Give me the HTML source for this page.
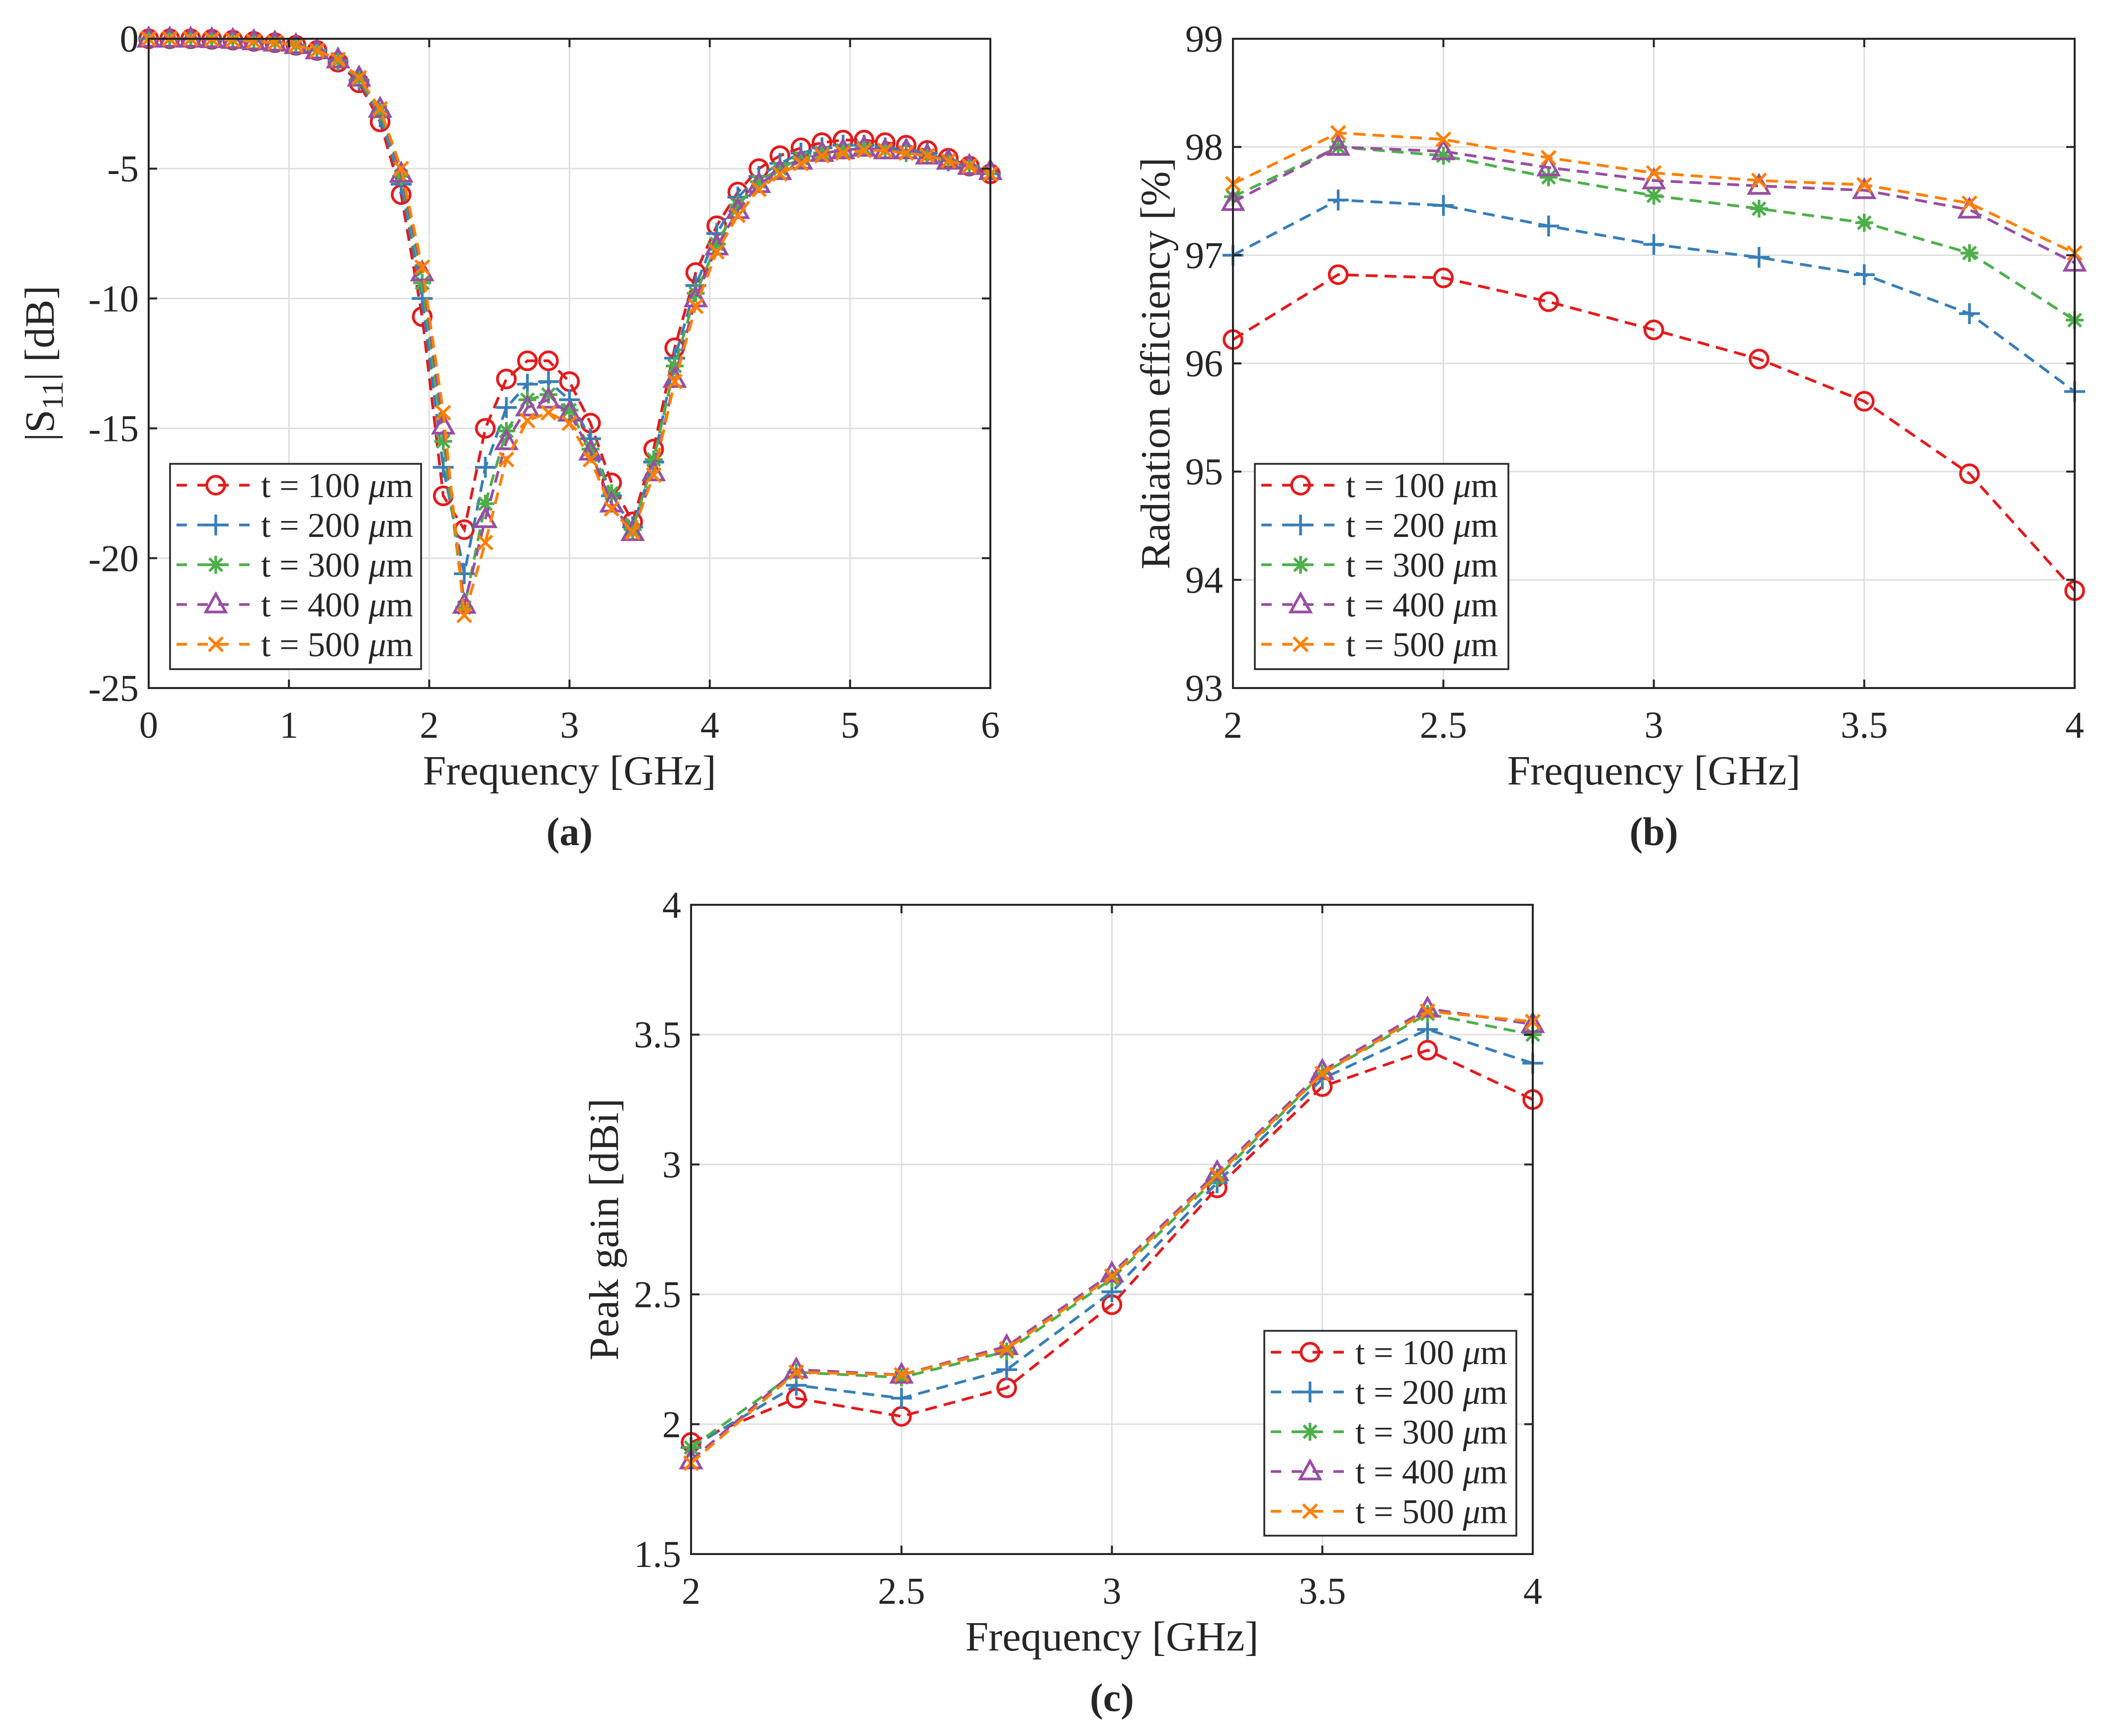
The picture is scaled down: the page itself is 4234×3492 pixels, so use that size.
<!DOCTYPE html>
<html><head><meta charset="utf-8">
<style>
html,body{margin:0;padding:0;background:#fff;}
svg{display:block;}
text{font-family:"Liberation Serif",serif;fill:#262626;}
</style></head>
<body>
<svg id="fig" width="4234" height="3492" viewBox="0 0 4234 3492" xmlns="http://www.w3.org/2000/svg"></svg>
<script>
// ---------- data ----------
const seriesLabels = ["100", "200", "300", "400", "500"];
const seriesColors = ["#e41a1c", "#377eb8", "#4daf4a", "#984ea3", "#ff7f00"];
const seriesMarkers = ["circle", "plus", "star", "triangle", "cross"];

// (a) S11
const freqA = [0,0.15,0.3,0.45,0.6,0.75,0.9,1.05,1.2,1.35,1.5,1.65,1.8,1.95,2.1,2.25,2.4,2.55,2.7,2.85,3.0,3.15,3.3,3.45,3.6,3.75,3.9,4.05,4.2,4.35,4.5,4.65,4.8,4.95,5.1,5.25,5.4,5.55,5.7,5.85,6.0];
const s11_100 = [0,0,0,-0.02,-0.05,-0.1,-0.15,-0.25,-0.45,-0.9,-1.7,-3.2,-6.0,-10.7,-17.6,-18.9,-15.0,-13.1,-12.4,-12.4,-13.2,-14.8,-17.1,-18.6,-15.8,-11.9,-9.0,-7.2,-5.9,-5.0,-4.5,-4.2,-4.0,-3.9,-3.9,-4.0,-4.1,-4.3,-4.6,-4.9,-5.2];
const s11_200 = [0,0,0,-0.02,-0.05,-0.1,-0.15,-0.25,-0.45,-0.85,-1.6,-3.0,-5.6,-10.0,-16.5,-20.6,-16.5,-14.2,-13.3,-13.2,-13.9,-15.4,-17.6,-18.8,-16.3,-12.3,-9.5,-7.5,-6.1,-5.3,-4.8,-4.4,-4.2,-4.1,-4.1,-4.2,-4.3,-4.4,-4.7,-4.9,-5.2];
const s11_300 = [0,0,0,-0.02,-0.05,-0.1,-0.15,-0.25,-0.45,-0.85,-1.55,-2.8,-5.3,-9.4,-15.5,-21.9,-17.9,-15.1,-13.9,-13.7,-14.3,-15.8,-17.5,-18.9,-16.2,-12.6,-9.8,-7.9,-6.4,-5.5,-5.0,-4.6,-4.4,-4.3,-4.2,-4.3,-4.4,-4.5,-4.7,-4.9,-5.2];
const s11_400 = [0,0,0,-0.02,-0.05,-0.1,-0.15,-0.25,-0.45,-0.8,-1.5,-2.7,-5.2,-9.0,-14.9,-21.8,-18.5,-15.5,-14.2,-13.9,-14.4,-15.9,-17.9,-19.0,-16.7,-13.1,-10.0,-8.0,-6.6,-5.6,-5.1,-4.7,-4.4,-4.3,-4.2,-4.3,-4.3,-4.5,-4.7,-4.9,-5.1];
const s11_500 = [0,0,0,-0.02,-0.05,-0.1,-0.15,-0.25,-0.45,-0.8,-1.5,-2.7,-5.0,-8.8,-14.4,-22.2,-19.4,-16.2,-14.7,-14.4,-14.8,-16.2,-18.1,-19.0,-16.8,-13.2,-10.3,-8.2,-6.8,-5.8,-5.2,-4.8,-4.5,-4.4,-4.3,-4.3,-4.4,-4.5,-4.7,-4.9,-5.2];

// (b) radiation efficiency
const freqB = [2,2.25,2.5,2.75,3,3.25,3.5,3.75,4];
const eff_100 = [96.22,96.82,96.79,96.57,96.31,96.04,95.65,94.98,93.90];
const eff_200 = [97.00,97.51,97.46,97.27,97.10,96.98,96.82,96.46,95.74];
const eff_300 = [97.54,98.00,97.92,97.72,97.55,97.43,97.30,97.02,96.40];
const eff_400 = [97.49,98.00,97.96,97.81,97.69,97.64,97.60,97.42,96.93];
const eff_500 = [97.66,98.13,98.07,97.90,97.76,97.69,97.65,97.48,97.02];

// (c) peak gain
const freqC = [2,2.25,2.5,2.75,3,3.25,3.5,3.75,4];
const gain_100 = [1.93,2.10,2.03,2.14,2.46,2.91,3.30,3.44,3.25];
const gain_200 = [1.91,2.15,2.10,2.21,2.51,2.93,3.33,3.52,3.39];
const gain_300 = [1.91,2.20,2.18,2.28,2.56,2.95,3.35,3.58,3.50];
const gain_400 = [1.86,2.21,2.19,2.30,2.58,2.97,3.36,3.60,3.54];
const gain_500 = [1.85,2.20,2.19,2.29,2.57,2.96,3.35,3.59,3.55];

// ticks
const ticksAx = [0,1,2,3,4,5,6];
const ticksAy = [0,-5,-10,-15,-20,-25];
const ticksAyLabels = ["0","-5","-10","-15","-20","-25"];
const ticksBx = [2,2.5,3,3.5,4];
const ticksBy = [93,94,95,96,97,98,99];
const ticksCx = [2,2.5,3,3.5,4];
const ticksCy = [1.5,2,2.5,3,3.5,4];

// ---------- drawing ----------
const NS = "http://www.w3.org/2000/svg";
const svg = document.getElementById("fig");
function mk(tag, attrs, parent) {
  const e = document.createElementNS(NS, tag);
  for (const k in attrs) e.setAttribute(k, attrs[k]);
  (parent || svg).appendChild(e);
  return e;
}

function marker(g, type, x, y, color) {
  const sw = 5.5;
  let m;
  if (type === "circle") {
    m = mk("circle", {cx:x, cy:y, r:18, fill:"none", stroke:color, "stroke-width":sw}, g);
  } else if (type === "plus") {
    m = mk("path", {d:`M${x-21},${y}H${x+21}M${x},${y-21}V${y+21}`, stroke:color, "stroke-width":sw, fill:"none"}, g);
  } else if (type === "star") {
    const r = 18, d = r*0.72;
    m = mk("path", {d:`M${x-r},${y}H${x+r}M${x},${y-r}V${y+r}M${x-d},${y-d}L${x+d},${y+d}M${x-d},${y+d}L${x+d},${y-d}`, stroke:color, "stroke-width":sw, fill:"none"}, g);
  } else if (type === "triangle") {
    m = mk("path", {d:`M${x},${y-21}L${x+20},${y+15}L${x-20},${y+15}Z`, stroke:color, "stroke-width":sw, fill:"none"}, g);
  } else {
    const d = 14;
    m = mk("path", {d:`M${x-d},${y-d}L${x+d},${y+d}M${x-d},${y+d}L${x+d},${y-d}`, stroke:color, "stroke-width":sw, fill:"none"}, g);
  }
  
  
}

function drawPlot(cfg) {
  const g = mk("g", {});
  
  
  const {L, T, W, H, xmin, xmax, ymin, ymax} = cfg;
  const sx = v => L + (v - xmin) / (xmax - xmin) * W;
  const sy = v => T + H - (v - ymin) / (ymax - ymin) * H;
  const grid = mk("g", {}, g);
  
  
  cfg.xt.forEach(v => mk("line", {x1:sx(v), x2:sx(v), y1:T, y2:T+H, stroke:"#dfdfdf", "stroke-width":3}, grid));
  cfg.yt.forEach(v => mk("line", {x1:L, x2:L+W, y1:sy(v), y2:sy(v), stroke:"#dfdfdf", "stroke-width":3}, grid));
  cfg.series.forEach((ys, i) => {
    const sg = mk("g", {}, g);
    
    
    const pts = ys.map((v, j) => sx(cfg.xs[j]).toFixed(1) + "," + sy(v).toFixed(1)).join(" ");
    const pl = mk("polyline", {points:pts, fill:"none", stroke:seriesColors[i], "stroke-width":5.5, "stroke-dasharray":"24,14"}, sg);
    
    
    ys.forEach((v, j) => marker(sg, seriesMarkers[i], sx(cfg.xs[j]), sy(v), seriesColors[i]));
  });
  const box = mk("rect", {x:L, y:T, width:W, height:H, fill:"none", stroke:"#262626", "stroke-width":4}, g);
  
  
  cfg.xt.forEach((v, i) => {
    mk("line", {x1:sx(v), x2:sx(v), y1:T+H, y2:T+H-17, stroke:"#262626", "stroke-width":4}, g);
    mk("line", {x1:sx(v), x2:sx(v), y1:T, y2:T+17, stroke:"#262626", "stroke-width":4}, g);
    const t = mk("text", {x:sx(v), y:T+H+100, "font-size":76, "text-anchor":"middle"}, g);
    t.textContent = cfg.xl[i];
    
    
  });
  cfg.yt.forEach((v, i) => {
    mk("line", {x1:L, x2:L+17, y1:sy(v), y2:sy(v), stroke:"#262626", "stroke-width":4}, g);
    mk("line", {x1:L+W, x2:L+W-17, y1:sy(v), y2:sy(v), stroke:"#262626", "stroke-width":4}, g);
    const t = mk("text", {x:L-20, y:sy(v)+26, "font-size":76, "text-anchor":"end"}, g);
    t.textContent = cfg.yl[i];
    
    
  });
  const xl = mk("text", {x:L+W/2, y:T+H+194, "font-size":84, "text-anchor":"middle"}, g);
  xl.textContent = "Frequency [GHz]";
  
  
  const yl = mk("text", {x:0, y:0, "font-size":84, "text-anchor":"middle", transform:`translate(${cfg.ylx},${T+H/2}) rotate(-90)`}, g);
  yl.innerHTML = cfg.ylab;
  
  
  const sl = mk("text", {x:L+W/2, y:T+H+316, "font-size":80, "font-weight":"bold", "text-anchor":"middle"}, g);
  sl.textContent = cfg.sub;
  
  
  const lg = mk("g", {}, g);
  
  
  const [lx, ly, lw, lh] = cfg.leg;
  mk("rect", {x:lx, y:ly, width:lw, height:lh, fill:"#fff", stroke:"#262626", "stroke-width":3.5}, lg);
  seriesLabels.forEach((s, i) => {
    const cy = ly + 43 + i * 80;
    const e = mk("g", {}, lg);
    
    
    mk("line", {x1:lx+13, x2:lx+160, y1:cy, y2:cy, stroke:seriesColors[i], "stroke-width":5.5, "stroke-dasharray":"21,21"}, e);
    marker(e, seriesMarkers[i], lx+92, cy, seriesColors[i]);
    const t = mk("text", {x:lx+183, y:cy+24, "font-size":70}, e);
    t.innerHTML = `t = ${s} <tspan font-style="italic">μ</tspan>m`;
  });
}

drawPlot({name:"plot-a-s11", L:299, T:78, W:1693, H:1306, xmin:0, xmax:6, ymin:-25, ymax:0,
  xs:freqA, series:[s11_100,s11_200,s11_300,s11_400,s11_500],
  xt:ticksAx, xl:ticksAx.map(String), yt:ticksAy, yl:ticksAyLabels,
  ylx:108, ylab:'|S<tspan dy="18" font-size="60">11</tspan><tspan dy="-18">| [dB]</tspan>', sub:"(a)",
  leg:[342, 933, 505, 413]});

drawPlot({name:"plot-b-efficiency", L:2480, T:78, W:1693, H:1306, xmin:2, xmax:4, ymin:93, ymax:99,
  xs:freqB, series:[eff_100,eff_200,eff_300,eff_400,eff_500],
  xt:ticksBx, xl:ticksBx.map(String), yt:ticksBy, yl:ticksBy.map(String),
  ylx:2352, ylab:'Radiation efficiency [%]', sub:"(b)",
  leg:[2524, 933, 510, 413]});

drawPlot({name:"plot-c-peak-gain", L:1390, T:1820, W:1693, H:1306, xmin:2, xmax:4, ymin:1.5, ymax:4,
  xs:freqC, series:[gain_100,gain_200,gain_300,gain_400,gain_500],
  xt:ticksCx, xl:ticksCx.map(String), yt:ticksCy, yl:ticksCy.map(String),
  ylx:1243, ylab:'Peak gain [dBi]', sub:"(c)",
  leg:[2543, 2677, 507, 412]});
</script>
</body></html>
